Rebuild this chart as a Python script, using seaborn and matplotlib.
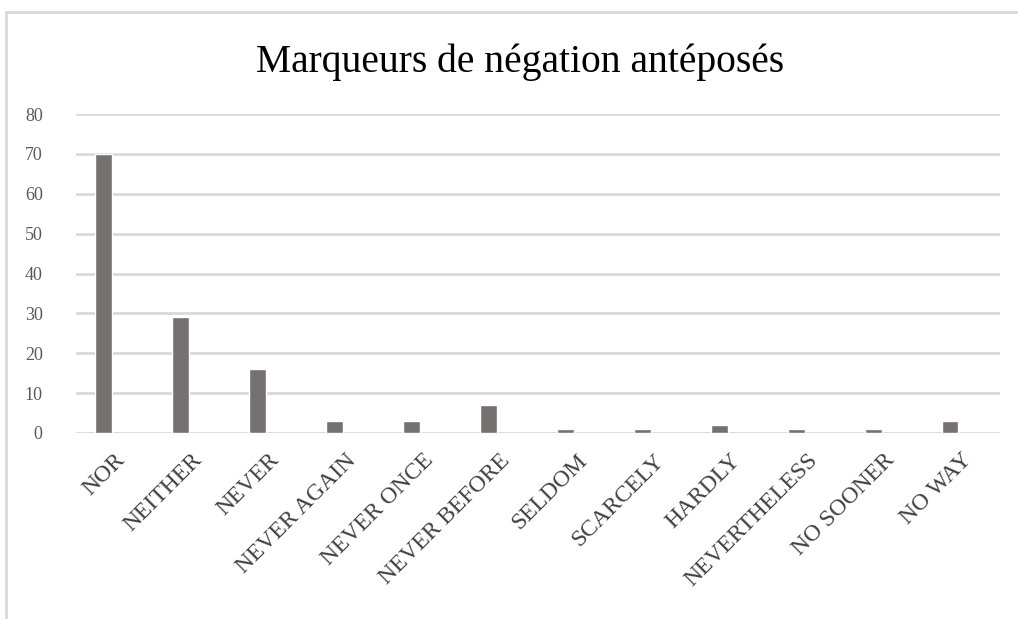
import matplotlib
matplotlib.use('Agg')
import matplotlib.pyplot as plt
import seaborn as sns
import pandas as pd
from matplotlib.patches import Rectangle

# data
markers = ['NOR', 'NEITHER', 'NEVER', 'NEVER AGAIN', 'NEVER ONCE', 'NEVER BEFORE',
           'SELDOM', 'SCARCELY', 'HARDLY', 'NEVERTHELESS', 'NO SOONER', 'NO WAY']
counts = [70, 29, 16, 3, 3, 7, 1, 1, 2, 1, 1, 3]
y_ticks = [0, 10, 20, 30, 40, 50, 60, 70, 80]

sns.set_style('white')
plt.rcParams['font.family'] = ['Liberation Serif', 'DejaVu Serif']

df = pd.DataFrame({'marker': markers, 'count': counts})

fig = plt.figure(figsize=(10.18, 6.19), dpi=100)
ax = fig.add_axes([0.0747, 0.3005, 0.9073, 0.5153])

sns.barplot(data=df, x='marker', y='count', color='#767171', width=0.22,
            saturation=1, ax=ax, zorder=3)
# bars sit a little left of the category centre, as in the original
for p in ax.patches:
    p.set_x(p.get_x() - 0.145)

ax.set_ylim(0, 80)
ax.set_yticks(y_ticks)
ax.set_xlim(-0.5, len(markers) - 0.5)
ax.grid(axis='y', color='#d9d9d9', linewidth=2, zorder=0)
ax.set_axisbelow(True)
for s in ax.spines.values():
    s.set_visible(False)

ax.set_xlabel('')
ax.set_ylabel('')
ax.tick_params(axis='both', length=0, colors='#595959')
ax.tick_params(axis='y', labelsize=13, pad=24)
ax.set_xticks(range(len(markers)))
ax.set_xticklabels(markers, rotation=45, ha='right', rotation_mode='anchor',
                   fontsize=17, color='#404040')
ax.tick_params(axis='x', pad=12)

fig.text(0.511, 0.9, 'Marqueurs de négation antéposés', ha='center', va='center',
         fontsize=28.5, color='black')

# light frame of the chart area
fig.patches.append(Rectangle((6 / 1018, -0.1), 1.2, 1.1 - 12 / 619, transform=fig.transFigure,
                             fill=False, edgecolor='#d9d9d9', linewidth=2))

fig.savefig('out.png', dpi=100)
